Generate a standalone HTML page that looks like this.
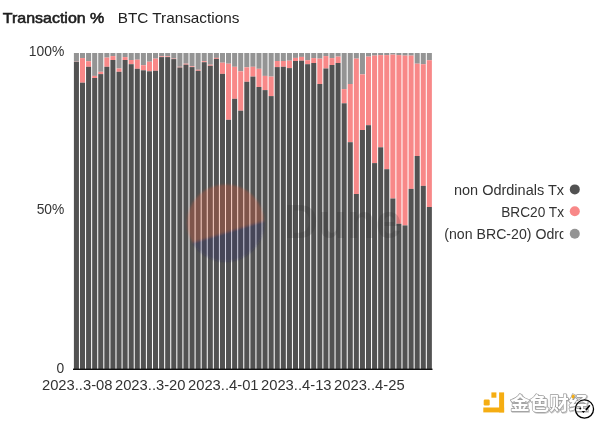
<!DOCTYPE html>
<html><head><meta charset="utf-8">
<style>
html,body{margin:0;padding:0;background:#fff;width:600px;height:424px;overflow:hidden}
svg{position:absolute;left:0;top:0;will-change:transform}
.ax{font-family:"Liberation Sans",sans-serif;font-size:13.8px;fill:#333}
.t{font-family:"Liberation Sans",sans-serif;font-size:14.5px;fill:#222}
.lg{font-family:"Liberation Sans",sans-serif;font-size:13.8px;fill:#333}
.cn{font-family:"Liberation Sans","Noto Sans CJK SC",sans-serif;font-size:18.6px;font-weight:700;fill:#fff;stroke:#999;stroke-width:1.3px;paint-order:stroke;stroke-linejoin:round}
.cs{fill:#c8c8c8;stroke:#c8c8c8}
</style></head><body>
<svg width="600" height="424" viewBox="0 0 600 424">
<rect width="600" height="424" fill="#fff"/>
<text x="2.8" y="22.9" class="t" fill="#1a1a1a" stroke="#1a1a1a" stroke-width="0.55" textLength="101.5" lengthAdjust="spacingAndGlyphs">Transaction %</text>
<text x="117.8" y="22.6" class="t" textLength="121.5" lengthAdjust="spacingAndGlyphs">BTC Transactions</text>
<g shape-rendering="geometricPrecision">
<rect x="73.90" y="53.0" width="5.05" height="8.80" fill="#949494"/>
<rect x="73.90" y="61.80" width="5.05" height="0.20" fill="#f88888"/>
<rect x="73.90" y="62.00" width="5.05" height="307.00" fill="#525252"/>
<rect x="79.98" y="53.0" width="5.05" height="5.10" fill="#949494"/>
<rect x="79.98" y="58.10" width="5.05" height="24.60" fill="#f88888"/>
<rect x="79.98" y="82.70" width="5.05" height="286.30" fill="#525252"/>
<rect x="86.07" y="53.0" width="5.05" height="8.20" fill="#949494"/>
<rect x="86.07" y="61.20" width="5.05" height="5.60" fill="#f88888"/>
<rect x="86.07" y="66.80" width="5.05" height="302.20" fill="#525252"/>
<rect x="92.16" y="53.0" width="5.05" height="22.90" fill="#949494"/>
<rect x="92.16" y="75.90" width="5.05" height="2.10" fill="#f88888"/>
<rect x="92.16" y="78.00" width="5.05" height="291.00" fill="#525252"/>
<rect x="98.24" y="53.0" width="5.05" height="18.80" fill="#949494"/>
<rect x="98.24" y="71.80" width="5.05" height="2.30" fill="#f88888"/>
<rect x="98.24" y="74.10" width="5.05" height="294.90" fill="#525252"/>
<rect x="104.33" y="53.0" width="5.05" height="4.60" fill="#949494"/>
<rect x="104.33" y="57.60" width="5.05" height="9.20" fill="#f88888"/>
<rect x="104.33" y="66.80" width="5.05" height="302.20" fill="#525252"/>
<rect x="110.41" y="53.0" width="5.05" height="3.10" fill="#949494"/>
<rect x="110.41" y="56.10" width="5.05" height="3.90" fill="#f88888"/>
<rect x="110.41" y="60.00" width="5.05" height="309.00" fill="#525252"/>
<rect x="116.50" y="53.0" width="5.05" height="15.50" fill="#949494"/>
<rect x="116.50" y="68.50" width="5.05" height="3.30" fill="#f88888"/>
<rect x="116.50" y="71.80" width="5.05" height="297.20" fill="#525252"/>
<rect x="122.58" y="53.0" width="5.05" height="4.10" fill="#949494"/>
<rect x="122.58" y="57.10" width="5.05" height="2.90" fill="#f88888"/>
<rect x="122.58" y="60.00" width="5.05" height="309.00" fill="#525252"/>
<rect x="128.67" y="53.0" width="5.05" height="7.00" fill="#949494"/>
<rect x="128.67" y="60.00" width="5.05" height="4.20" fill="#f88888"/>
<rect x="128.67" y="64.20" width="5.05" height="304.80" fill="#525252"/>
<rect x="134.75" y="53.0" width="5.05" height="6.70" fill="#949494"/>
<rect x="134.75" y="59.70" width="5.05" height="9.10" fill="#f88888"/>
<rect x="134.75" y="68.80" width="5.05" height="300.20" fill="#525252"/>
<rect x="140.84" y="53.0" width="5.05" height="12.20" fill="#949494"/>
<rect x="140.84" y="65.20" width="5.05" height="5.10" fill="#f88888"/>
<rect x="140.84" y="70.30" width="5.05" height="298.70" fill="#525252"/>
<rect x="146.92" y="53.0" width="5.05" height="8.70" fill="#949494"/>
<rect x="146.92" y="61.70" width="5.05" height="9.60" fill="#f88888"/>
<rect x="146.92" y="71.30" width="5.05" height="297.70" fill="#525252"/>
<rect x="153.00" y="53.0" width="5.05" height="5.60" fill="#949494"/>
<rect x="153.00" y="58.60" width="5.05" height="12.20" fill="#f88888"/>
<rect x="153.00" y="70.80" width="5.05" height="298.20" fill="#525252"/>
<rect x="159.09" y="53.0" width="5.05" height="3.30" fill="#949494"/>
<rect x="159.09" y="56.30" width="5.05" height="0.80" fill="#f88888"/>
<rect x="159.09" y="57.10" width="5.05" height="311.90" fill="#525252"/>
<rect x="165.18" y="53.0" width="5.05" height="3.30" fill="#949494"/>
<rect x="165.18" y="56.30" width="5.05" height="0.80" fill="#f88888"/>
<rect x="165.18" y="57.10" width="5.05" height="311.90" fill="#525252"/>
<rect x="171.26" y="53.0" width="5.05" height="5.60" fill="#949494"/>
<rect x="171.26" y="58.60" width="5.05" height="0.50" fill="#f88888"/>
<rect x="171.26" y="59.10" width="5.05" height="309.90" fill="#525252"/>
<rect x="177.34" y="53.0" width="5.05" height="13.80" fill="#949494"/>
<rect x="177.34" y="66.80" width="5.05" height="0.70" fill="#f88888"/>
<rect x="177.34" y="67.50" width="5.05" height="301.50" fill="#525252"/>
<rect x="183.43" y="53.0" width="5.05" height="10.70" fill="#949494"/>
<rect x="183.43" y="63.70" width="5.05" height="1.00" fill="#f88888"/>
<rect x="183.43" y="64.70" width="5.05" height="304.30" fill="#525252"/>
<rect x="189.51" y="53.0" width="5.05" height="13.30" fill="#949494"/>
<rect x="189.51" y="66.30" width="5.05" height="0.80" fill="#f88888"/>
<rect x="189.51" y="67.10" width="5.05" height="301.90" fill="#525252"/>
<rect x="195.60" y="53.0" width="5.05" height="16.80" fill="#949494"/>
<rect x="195.60" y="69.80" width="5.05" height="1.00" fill="#f88888"/>
<rect x="195.60" y="70.80" width="5.05" height="298.20" fill="#525252"/>
<rect x="201.69" y="53.0" width="5.05" height="8.20" fill="#949494"/>
<rect x="201.69" y="61.20" width="5.05" height="1.00" fill="#f88888"/>
<rect x="201.69" y="62.20" width="5.05" height="306.80" fill="#525252"/>
<rect x="207.77" y="53.0" width="5.05" height="11.70" fill="#949494"/>
<rect x="207.77" y="64.70" width="5.05" height="1.10" fill="#f88888"/>
<rect x="207.77" y="65.80" width="5.05" height="303.20" fill="#525252"/>
<rect x="213.86" y="53.0" width="5.05" height="4.90" fill="#949494"/>
<rect x="213.86" y="57.90" width="5.05" height="1.00" fill="#f88888"/>
<rect x="213.86" y="58.90" width="5.05" height="310.10" fill="#525252"/>
<rect x="219.94" y="53.0" width="5.05" height="9.70" fill="#949494"/>
<rect x="219.94" y="62.70" width="5.05" height="11.20" fill="#f88888"/>
<rect x="219.94" y="73.90" width="5.05" height="295.10" fill="#525252"/>
<rect x="226.03" y="53.0" width="5.05" height="10.70" fill="#949494"/>
<rect x="226.03" y="63.70" width="5.05" height="56.10" fill="#f88888"/>
<rect x="226.03" y="119.80" width="5.05" height="249.20" fill="#525252"/>
<rect x="232.11" y="53.0" width="5.05" height="13.80" fill="#949494"/>
<rect x="232.11" y="66.80" width="5.05" height="32.00" fill="#f88888"/>
<rect x="232.11" y="98.80" width="5.05" height="270.20" fill="#525252"/>
<rect x="238.19" y="53.0" width="5.05" height="18.30" fill="#949494"/>
<rect x="238.19" y="71.30" width="5.05" height="39.40" fill="#f88888"/>
<rect x="238.19" y="110.70" width="5.05" height="258.30" fill="#525252"/>
<rect x="244.28" y="53.0" width="5.05" height="14.30" fill="#949494"/>
<rect x="244.28" y="67.30" width="5.05" height="14.50" fill="#f88888"/>
<rect x="244.28" y="81.80" width="5.05" height="287.20" fill="#525252"/>
<rect x="250.37" y="53.0" width="5.05" height="13.80" fill="#949494"/>
<rect x="250.37" y="66.80" width="5.05" height="9.80" fill="#f88888"/>
<rect x="250.37" y="76.60" width="5.05" height="292.40" fill="#525252"/>
<rect x="256.45" y="53.0" width="5.05" height="15.80" fill="#949494"/>
<rect x="256.45" y="68.80" width="5.05" height="18.20" fill="#f88888"/>
<rect x="256.45" y="87.00" width="5.05" height="282.00" fill="#525252"/>
<rect x="262.53" y="53.0" width="5.05" height="22.90" fill="#949494"/>
<rect x="262.53" y="75.90" width="5.05" height="14.20" fill="#f88888"/>
<rect x="262.53" y="90.10" width="5.05" height="278.90" fill="#525252"/>
<rect x="268.62" y="53.0" width="5.05" height="23.60" fill="#949494"/>
<rect x="268.62" y="76.60" width="5.05" height="19.50" fill="#f88888"/>
<rect x="268.62" y="96.10" width="5.05" height="272.90" fill="#525252"/>
<rect x="274.71" y="53.0" width="5.05" height="8.00" fill="#949494"/>
<rect x="274.71" y="61.00" width="5.05" height="6.10" fill="#f88888"/>
<rect x="274.71" y="67.10" width="5.05" height="301.90" fill="#525252"/>
<rect x="280.79" y="53.0" width="5.05" height="8.00" fill="#949494"/>
<rect x="280.79" y="61.00" width="5.05" height="5.80" fill="#f88888"/>
<rect x="280.79" y="66.80" width="5.05" height="302.20" fill="#525252"/>
<rect x="286.88" y="53.0" width="5.05" height="7.70" fill="#949494"/>
<rect x="286.88" y="60.70" width="5.05" height="7.40" fill="#f88888"/>
<rect x="286.88" y="68.10" width="5.05" height="300.90" fill="#525252"/>
<rect x="292.96" y="53.0" width="5.05" height="4.90" fill="#949494"/>
<rect x="292.96" y="57.90" width="5.05" height="3.10" fill="#f88888"/>
<rect x="292.96" y="61.00" width="5.05" height="308.00" fill="#525252"/>
<rect x="299.05" y="53.0" width="5.05" height="3.90" fill="#949494"/>
<rect x="299.05" y="56.90" width="5.05" height="3.80" fill="#f88888"/>
<rect x="299.05" y="60.70" width="5.05" height="308.30" fill="#525252"/>
<rect x="305.13" y="53.0" width="5.05" height="7.20" fill="#949494"/>
<rect x="305.13" y="60.20" width="5.05" height="4.00" fill="#f88888"/>
<rect x="305.13" y="64.20" width="5.05" height="304.80" fill="#525252"/>
<rect x="311.22" y="53.0" width="5.05" height="5.10" fill="#949494"/>
<rect x="311.22" y="58.10" width="5.05" height="4.90" fill="#f88888"/>
<rect x="311.22" y="63.00" width="5.05" height="306.00" fill="#525252"/>
<rect x="317.30" y="53.0" width="5.05" height="5.60" fill="#949494"/>
<rect x="317.30" y="58.60" width="5.05" height="25.40" fill="#f88888"/>
<rect x="317.30" y="84.00" width="5.05" height="285.00" fill="#525252"/>
<rect x="323.38" y="53.0" width="5.05" height="3.10" fill="#949494"/>
<rect x="323.38" y="56.10" width="5.05" height="12.40" fill="#f88888"/>
<rect x="323.38" y="68.50" width="5.05" height="300.50" fill="#525252"/>
<rect x="329.47" y="53.0" width="5.05" height="5.10" fill="#949494"/>
<rect x="329.47" y="58.10" width="5.05" height="6.90" fill="#f88888"/>
<rect x="329.47" y="65.00" width="5.05" height="304.00" fill="#525252"/>
<rect x="335.55" y="53.0" width="5.05" height="3.60" fill="#949494"/>
<rect x="335.55" y="56.60" width="5.05" height="6.40" fill="#f88888"/>
<rect x="335.55" y="63.00" width="5.05" height="306.00" fill="#525252"/>
<rect x="341.64" y="53.0" width="5.05" height="36.10" fill="#949494"/>
<rect x="341.64" y="89.10" width="5.05" height="14.20" fill="#f88888"/>
<rect x="341.64" y="103.30" width="5.05" height="265.70" fill="#525252"/>
<rect x="347.73" y="53.0" width="5.05" height="31.00" fill="#949494"/>
<rect x="347.73" y="84.00" width="5.05" height="58.20" fill="#f88888"/>
<rect x="347.73" y="142.20" width="5.05" height="226.80" fill="#525252"/>
<rect x="353.81" y="53.0" width="5.05" height="5.60" fill="#949494"/>
<rect x="353.81" y="58.60" width="5.05" height="135.40" fill="#f88888"/>
<rect x="353.81" y="194.00" width="5.05" height="175.00" fill="#525252"/>
<rect x="359.89" y="53.0" width="5.05" height="21.40" fill="#949494"/>
<rect x="359.89" y="74.40" width="5.05" height="55.60" fill="#f88888"/>
<rect x="359.89" y="130.00" width="5.05" height="239.00" fill="#525252"/>
<rect x="365.98" y="53.0" width="5.05" height="3.60" fill="#949494"/>
<rect x="365.98" y="56.60" width="5.05" height="68.60" fill="#f88888"/>
<rect x="365.98" y="125.20" width="5.05" height="243.80" fill="#525252"/>
<rect x="372.07" y="53.0" width="5.05" height="2.60" fill="#949494"/>
<rect x="372.07" y="55.60" width="5.05" height="107.50" fill="#f88888"/>
<rect x="372.07" y="163.10" width="5.05" height="205.90" fill="#525252"/>
<rect x="378.15" y="53.0" width="5.05" height="2.10" fill="#949494"/>
<rect x="378.15" y="55.10" width="5.05" height="92.20" fill="#f88888"/>
<rect x="378.15" y="147.30" width="5.05" height="221.70" fill="#525252"/>
<rect x="384.24" y="53.0" width="5.05" height="2.10" fill="#949494"/>
<rect x="384.24" y="55.10" width="5.05" height="114.10" fill="#f88888"/>
<rect x="384.24" y="169.20" width="5.05" height="199.80" fill="#525252"/>
<rect x="390.32" y="53.0" width="5.05" height="1.60" fill="#949494"/>
<rect x="390.32" y="54.60" width="5.05" height="143.90" fill="#f88888"/>
<rect x="390.32" y="198.50" width="5.05" height="170.50" fill="#525252"/>
<rect x="396.40" y="53.0" width="5.05" height="2.10" fill="#949494"/>
<rect x="396.40" y="55.10" width="5.05" height="168.70" fill="#f88888"/>
<rect x="396.40" y="223.80" width="5.05" height="145.20" fill="#525252"/>
<rect x="402.49" y="53.0" width="5.05" height="2.60" fill="#949494"/>
<rect x="402.49" y="55.60" width="5.05" height="169.80" fill="#f88888"/>
<rect x="402.49" y="225.40" width="5.05" height="143.60" fill="#525252"/>
<rect x="408.58" y="53.0" width="5.05" height="2.60" fill="#949494"/>
<rect x="408.58" y="55.60" width="5.05" height="133.30" fill="#f88888"/>
<rect x="408.58" y="188.90" width="5.05" height="180.10" fill="#525252"/>
<rect x="414.66" y="53.0" width="5.05" height="10.70" fill="#949494"/>
<rect x="414.66" y="63.70" width="5.05" height="92.30" fill="#f88888"/>
<rect x="414.66" y="156.00" width="5.05" height="213.00" fill="#525252"/>
<rect x="420.75" y="53.0" width="5.05" height="11.20" fill="#949494"/>
<rect x="420.75" y="64.20" width="5.05" height="121.70" fill="#f88888"/>
<rect x="420.75" y="185.90" width="5.05" height="183.10" fill="#525252"/>
<rect x="426.83" y="53.0" width="5.05" height="7.20" fill="#949494"/>
<rect x="426.83" y="60.20" width="5.05" height="146.80" fill="#f88888"/>
<rect x="426.83" y="207.00" width="5.05" height="162.00" fill="#525252"/>
</g>
<!-- watermark -->
<defs><clipPath id="wc"><circle cx="225.6" cy="223" r="38.6"/></clipPath></defs>
<filter id="wb" x="-10%" y="-10%" width="120%" height="120%"><feGaussianBlur stdDeviation="0.8"/></filter>
<g filter="url(#wb)"><g clip-path="url(#wc)">
<polygon points="180,0 280,0 280,215.9 180,246.4" fill="#f4603e" opacity="0.28"/>
<polygon points="180,246.4 280,215.9 280,280 180,280" fill="#1c1a66" opacity="0.25"/>
</g></g>
<text x="284" y="238" font-family="Liberation Sans,sans-serif" font-weight="bold" font-size="48" fill="#222" opacity="0.16" textLength="118" lengthAdjust="spacingAndGlyphs">Dune</text>
<rect x="73" y="368.6" width="359.5" height="1.4" fill="#111"/>
<text x="64.3" y="56.2" text-anchor="end" class="ax" textLength="35.5" lengthAdjust="spacingAndGlyphs">100%</text>
<text x="64.3" y="214.4" text-anchor="end" class="ax">50%</text>
<text x="64.3" y="372.8" text-anchor="end" class="ax">0</text>
<text x="77.23" y="389.8" text-anchor="middle" class="ax" textLength="70.6" lengthAdjust="spacingAndGlyphs">2023..3-08</text>
<text x="150.25" y="389.8" text-anchor="middle" class="ax" textLength="70.6" lengthAdjust="spacingAndGlyphs">2023..3-20</text>
<text x="223.27" y="389.8" text-anchor="middle" class="ax" textLength="70.6" lengthAdjust="spacingAndGlyphs">2023..4-01</text>
<text x="296.29" y="389.8" text-anchor="middle" class="ax" textLength="70.6" lengthAdjust="spacingAndGlyphs">2023..4-13</text>
<text x="369.31" y="389.8" text-anchor="middle" class="ax" textLength="70.6" lengthAdjust="spacingAndGlyphs">2023..4-25</text>

<!-- legend -->
<text x="564" y="194.8" text-anchor="end" class="lg" textLength="110" lengthAdjust="spacingAndGlyphs">non Odrdinals Tx</text>
<circle cx="574.8" cy="189.4" r="5" fill="#525252"/>
<text x="564" y="216.6" text-anchor="end" class="lg" textLength="62.8" lengthAdjust="spacingAndGlyphs">BRC20 Tx</text>
<circle cx="574.8" cy="211.2" r="5" fill="#f88888"/>
<clipPath id="lc"><rect x="400" y="220" width="163.4" height="30"/></clipPath>
<text x="444.3" y="239" class="lg" clip-path="url(#lc)" textLength="171" lengthAdjust="spacingAndGlyphs">(non BRC-20) Odrdinals Tx</text>
<circle cx="574.8" cy="233.7" r="5" fill="#949494"/>
<!-- logo -->
<g fill="#f5ad12">
<rect x="499.1" y="392.4" width="5" height="20"/>
<rect x="483.3" y="407.5" width="20.8" height="4.9"/>
<rect x="491.4" y="392.4" width="5" height="5.3"/>
<rect x="483.7" y="399.6" width="6" height="5.9" rx="1.2"/>
</g>
<text x="511.1" y="411.2" class="cn cs" textLength="78" lengthAdjust="spacingAndGlyphs">金色财经</text>
<text x="510.3" y="410.3" class="cn" textLength="78" lengthAdjust="spacingAndGlyphs">金色财经</text>
<rect x="571.8" y="394.6" width="2.6" height="3.8" rx="1" fill="#f5ad12" transform="rotate(20 573 396.5)"/>
<circle cx="584.45" cy="409.05" r="9.1" fill="none" stroke="#000" stroke-width="1.3"/>
<circle cx="580.3" cy="408.6" r="1.0" fill="#000"/>
<path d="M581.6,411.1 L585.1,411.1 L583.4,413.0 Z" fill="#000"/>
<path d="M586.3,409.6 L589.4,405.8" stroke="#000" stroke-width="1.7" stroke-linecap="round"/>
</svg>
</body></html>
